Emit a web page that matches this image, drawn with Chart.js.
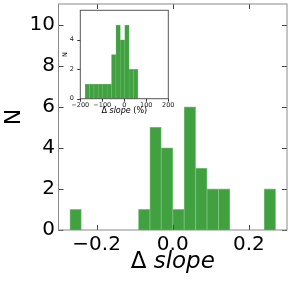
<!DOCTYPE html>
<html>
<head>
<meta charset="utf-8">
<script src="https://cdn.jsdelivr.net/npm/chart.js@4/dist/chart.umd.min.js"></script>
<style>
    html, body { margin: 0; padding: 0; background: #fff; }
    #wrap { position: relative; width: 291px; height: 284px; }
    #mainChart { position: absolute; left: 0; top: 0; }
    #insetChart { position: absolute; left: 60px; top: 0; }
</style>
</head>
<body>
<div id="wrap">
    <canvas id="mainChart" width="291" height="284"></canvas>
    <canvas id="insetChart" width="125" height="118"></canvas>
</div>
<script>
// Main histogram: delta slope, bins of 0.03 (centres)
const slopeBins = [-0.255, -0.225, -0.195, -0.165, -0.135, -0.105, -0.075, -0.045, -0.015,
                   0.015, 0.045, 0.075, 0.105, 0.135, 0.165, 0.195, 0.225, 0.255];
const slopeCounts = [1, 0, 0, 0, 0, 0, 1, 5, 4, 1, 6, 3, 2, 2, 0, 0, 0, 2];
const slopeTicks = [-0.2, 0, 0.2];
const slopeTickLabels = ["\u22120.2", "0.0", "0.2"];
const countTicks = [0, 2, 4, 6, 8, 10];

// Inset histogram: delta slope in percent, bins of 20 (centres)
const pctBins = [-168, -148, -128, -108, -88, -68, -48, -28, -8, 12, 32, 52];
const pctCounts = [1, 1, 1, 1, 1, 1, 3, 5, 4, 5, 2, 2];
const pctTicks = [-200, -100, 0, 100, 200];
const pctTickLabels = ["\u2212200", "\u2212100", "0", "100", "200"];
const pctCountTicks = [0, 2, 4];

const FONT = "DejaVu Sans";
const BAR_GREEN = "#41a141";

// frame round the plot area plus tick marks (inward or outward)
const frameTicks = {
    id: "frameTicks",
    afterDraw(chart, args, opts) {
        const ctx = chart.ctx;
        const a = chart.chartArea;
        const x = chart.scales.x;
        const y = chart.scales.y;
        ctx.save();
        ctx.lineWidth = 1;
        ctx.strokeStyle = opts.tickColor;
        ctx.beginPath();
        x.ticks.forEach(t => {
            const px = Math.round(x.getPixelForValue(t.value)) + 0.5;
            ctx.moveTo(px, a.bottom);
            ctx.lineTo(px, a.bottom - opts.len);
            if (opts.mirror) {
                ctx.moveTo(px, a.top);
                ctx.lineTo(px, a.top + opts.len);
            }
        });
        y.ticks.forEach(t => {
            const py = Math.round(y.getPixelForValue(t.value)) + 0.5;
            ctx.moveTo(a.left, py);
            ctx.lineTo(a.left + opts.len, py);
            if (opts.mirror) {
                ctx.moveTo(a.right, py);
                ctx.lineTo(a.right - opts.len, py);
            }
        });
        ctx.stroke();
        ctx.strokeStyle = opts.frameColor;
        ctx.strokeRect(a.left, a.top, a.right - a.left, a.bottom - a.top);
        ctx.restore();
    }
};

// axis titles, "slope" in italics
const axisTitles = {
    id: "axisTitles",
    afterDraw(chart, args, opts) {
        const ctx = chart.ctx;
        const a = chart.chartArea;
        ctx.save();
        ctx.fillStyle = "#000";

        // x title built from parts
        const parts = opts.xParts;
        let total = 0;
        parts.forEach(p => {
            ctx.font = (p.italic ? "italic " : "") + opts.xSize + "px '" + FONT + "'";
            p.w = ctx.measureText(p.text).width;
            total += p.w;
        });
        let cx = (a.left + a.right) / 2 - total / 2;
        ctx.textBaseline = "alphabetic";
        ctx.textAlign = "left";
        parts.forEach(p => {
            ctx.font = (p.italic ? "italic " : "") + opts.xSize + "px '" + FONT + "'";
            ctx.fillText(p.text, cx, opts.xBase);
            cx += p.w;
        });

        // y title rotated
        ctx.translate(opts.yX, (a.top + a.bottom) / 2);
        ctx.rotate(-Math.PI / 2);
        ctx.font = opts.ySize + "px '" + FONT + "'";
        ctx.textAlign = "center";
        ctx.textBaseline = "middle";
        ctx.fillText("N", 0, 0);
        ctx.restore();
    }
};

function histData(bins, counts) {
    return bins.map((b, i) => ({ x: b, y: counts[i] }));
}

// fixed axis sizes, no extra padding for edge labels
function fixHeight(h) {
    return s => { s.height = h; s.paddingLeft = 0; s.paddingRight = 0; };
}
function fixWidth(w) {
    return s => { s.width = w; s.paddingTop = 0; s.paddingBottom = 0; };
}

document.addEventListener("DOMContentLoaded", function () {
    // Main chart
    new Chart(document.getElementById("mainChart"), {
        type: "bar",
        data: {
            datasets: [{
                data: histData(slopeBins, slopeCounts),
                backgroundColor: BAR_GREEN,
                borderColor: "rgba(110, 190, 110, 0.9)",
                borderWidth: 0.8,
                barPercentage: 1,
                categoryPercentage: 1
            }]
        },
        options: {
            responsive: false,
            animation: false,
            layout: { padding: { top: 4, right: 4, left: 0, bottom: 0 } },
            plugins: {
                legend: { display: false },
                tooltip: { enabled: false },
                frameTicks: { frameColor: "#8a8a8a", tickColor: "#444", len: 5, mirror: true },
                axisTitles: {
                    xParts: [{ text: "\u0394 " }, { text: "slope", italic: true }],
                    xSize: 23, xBase: 268, yX: 14.5, ySize: 22
                }
            },
            scales: {
                x: {
                    type: "linear",
                    min: -0.3,
                    max: 0.3,
                    offset: false,
                    grid: { display: false, drawTicks: false, offset: false },
                    border: { display: false },
                    afterBuildTicks: s => { s.ticks = slopeTicks.map(v => ({ value: v })); },
                    afterFit: fixHeight(54),
                    ticks: {
                        autoSkip: false,
                        maxRotation: 0,
                        padding: 3,
                        color: "#000",
                        font: { family: FONT, size: 20 },
                        callback: (v, i) => slopeTickLabels[i]
                    }
                },
                y: {
                    min: 0,
                    max: 11,
                    grid: { display: false, drawTicks: false },
                    border: { display: false },
                    afterBuildTicks: s => { s.ticks = countTicks.map(v => ({ value: v })); },
                    afterFit: fixWidth(58.5),
                    ticks: {
                        padding: 3.5,
                        color: "#000",
                        font: { family: FONT, size: 20 },
                        callback: v => String(v)
                    }
                }
            }
        },
        plugins: [frameTicks, axisTitles]
    });

    // Inset chart
    new Chart(document.getElementById("insetChart"), {
        type: "bar",
        data: {
            datasets: [{
                data: histData(pctBins, pctCounts),
                backgroundColor: BAR_GREEN,
                borderColor: "rgba(110, 190, 110, 0.9)",
                borderWidth: 0.5,
                barPercentage: 1,
                categoryPercentage: 1
            }]
        },
        options: {
            responsive: false,
            animation: false,
            layout: { padding: { top: 10.3, right: 16.7, left: 0, bottom: 0 } },
            plugins: {
                legend: { display: false },
                tooltip: { enabled: false },
                frameTicks: { frameColor: "#555", tickColor: "#333", len: -3, mirror: false },
                axisTitles: {
                    xParts: [{ text: "\u0394 " }, { text: "slope", italic: true }, { text: " (%)" }],
                    xSize: 8, xBase: 112.5, yX: 5, ySize: 6.5
                }
            },
            scales: {
                x: {
                    type: "linear",
                    min: -200,
                    max: 200,
                    offset: false,
                    grid: { display: false, drawTicks: false, offset: false },
                    border: { display: false },
                    afterBuildTicks: s => { s.ticks = pctTicks.map(v => ({ value: v })); },
                    afterFit: fixHeight(19.3),
                    ticks: {
                        autoSkip: false,
                        maxRotation: 0,
                        padding: 2.8,
                        color: "#222",
                        font: { family: FONT, size: 6.5 },
                        callback: (v, i) => pctTickLabels[i]
                    }
                },
                y: {
                    min: 0,
                    max: 6,
                    grid: { display: false, drawTicks: false },
                    border: { display: false },
                    afterBuildTicks: s => { s.ticks = pctCountTicks.map(v => ({ value: v })); },
                    afterFit: fixWidth(20.3),
                    ticks: {
                        padding: 6.3,
                        color: "#222",
                        font: { family: FONT, size: 6.5 },
                        callback: v => String(v)
                    }
                }
            }
        },
        plugins: [frameTicks, axisTitles]
    });
});
</script>
</body>
</html>
